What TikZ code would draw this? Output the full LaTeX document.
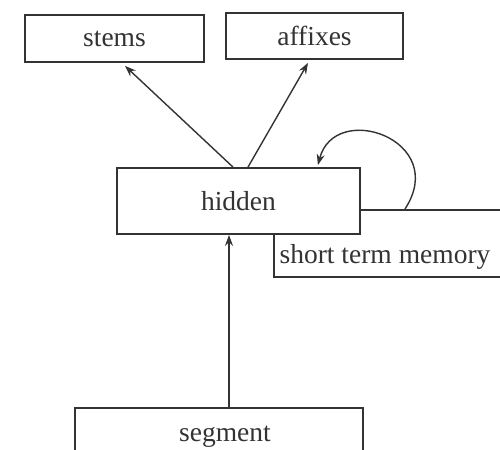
\documentclass[tikz,border=0pt]{standalone}
\usepackage{fontspec}
\setmainfont{Liberation Serif}
\usetikzlibrary{arrows.meta}
\definecolor{ink}{HTML}{333333}
\tikzset{
  box/.style={draw=ink, line width=0.9pt, fill=white, inner sep=0pt,
              font=\fontsize{13.75}{16}\selectfont, text=ink},
  lbl/.style={inner sep=0pt, font=\fontsize{13.75}{16}\selectfont, text=ink},
  arr/.style={draw=ink, line width=0.7pt, -{Stealth[length=5.5pt,width=4pt]}}
}
\begin{document}
\begin{tikzpicture}[x=0.5pt,y=-0.5pt]
\path[use as bounding box] (0,0) rectangle (500,450);
\clip (0,0) rectangle (500,450);
\node[box, minimum width=89.5pt, minimum height=23.5pt] (stems) at (114.5,38.5) {stems};
\node[box, minimum width=88.5pt, minimum height=23pt] (affixes) at (314.5,36) {affixes};
\node[box, minimum width=116pt, minimum height=33.5pt, anchor=north west] (stm) at (273,209) {};
\node[lbl] (stmtext) at (385,257) {short term memory};
\node[box, minimum width=121.5pt, minimum height=33pt] (hidden) at (238.5,201) {hidden};
\node[box, minimum width=144pt, minimum height=26.5pt, anchor=north, text depth=0pt] (segment) at (219,407) {\raisebox{1pt}{\hspace{6pt}segment}};
\draw[arr] ([xshift=-2.75pt]hidden.north) -- ([xshift=5.25pt,yshift=-1.5pt]stems.south);
\draw[arr] ([xshift=4.75pt]hidden.north) -- ([xshift=-3.25pt,yshift=-1.5pt]affixes.south);
\draw[arr] ([xshift=5pt]segment.north) -- ([xshift=-4.75pt]hidden.south);
\draw[arr] ([xshift=66pt]stm.north west) .. controls (450,140) and (335,100) .. ([xshift=-21.5pt,yshift=1pt]hidden.north east);
\end{tikzpicture}
\end{document}
